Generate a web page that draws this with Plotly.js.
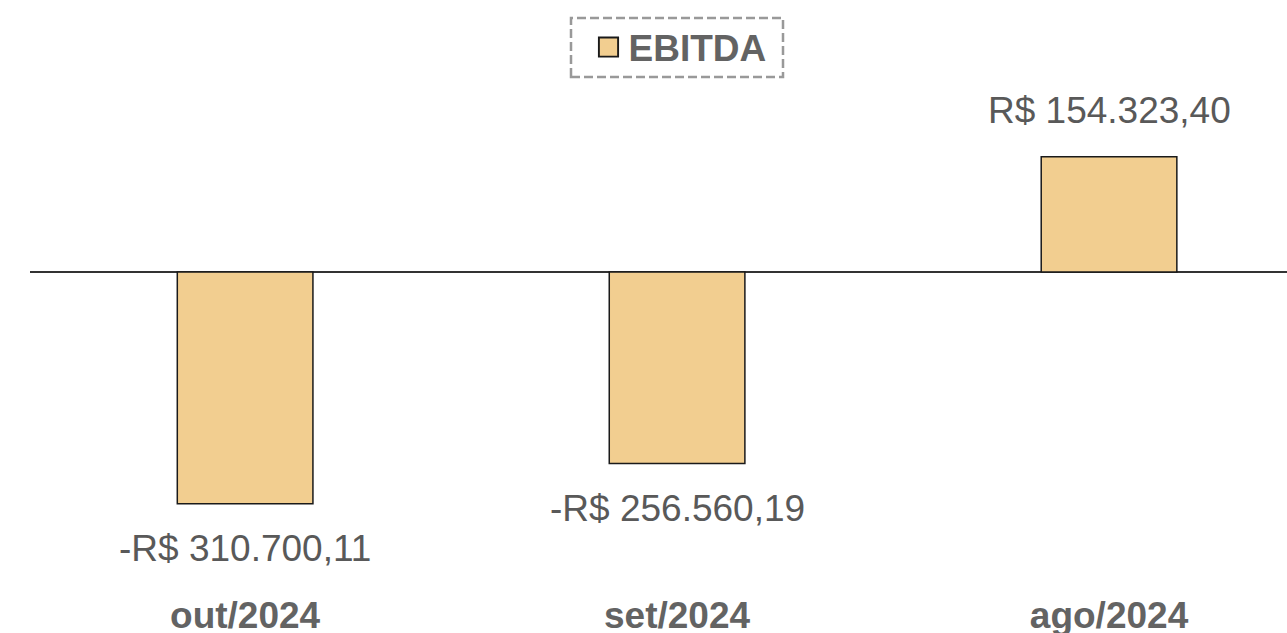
<!DOCTYPE html>
<html>
<head>
<meta charset="utf-8">
<script src="https://cdn.plot.ly/plotly-3.0.1.min.js"></script>
<style>html,body{margin:0;padding:0;background:#fff;}#chart{width:1287px;height:633px;}</style>
</head>
<body>
<div id="chart"></div>
<script>
const categories = ['out/2024', 'set/2024', 'ago/2024'];
const ebitda = [-310700.11, -256560.19, 154323.40];
const seriesName = 'EBITDA';

function fmtBRL(v) {
  const neg = v < 0;
  const parts = Math.abs(v).toFixed(2).split('.');
  const intPart = parts[0].replace(/\B(?=(\d{3})+(?!\d))/g, '.');
  return (neg ? '-' : '') + 'R$ ' + intPart + ',' + parts[1];
}

const FONT = 'Liberation Sans, Arial, sans-serif';
const GRAY = '#595959';
const BOLDGRAY = '#636363';

const trace = {
  type: 'bar',
  x: categories,
  y: ebitda,
  name: seriesName,
  width: 0.314,
  marker: { color: '#F2CE90', line: { color: '#1a1a1a', width: 1.5 } },
  showlegend: true,
  hoverinfo: 'none'
};

const annotations = categories.map((c, i) => ({
  x: c, y: ebitda[i], xref: 'x', yref: 'y',
  text: fmtBRL(ebitda[i]),
  showarrow: false,
  yanchor: 'middle',
  yshift: ebitda[i] < 0 ? -45 : 46,
  font: { family: FONT, size: 37, color: GRAY }
}));

const layout = {
  width: 1287, height: 633,
  margin: { l: 30, r: 0, t: 95, b: 43 },
  paper_bgcolor: '#ffffff', plot_bgcolor: '#ffffff',
  bargap: 0,
  xaxis: {
    range: [-0.498, 2.412],
    showgrid: false, showline: false, zeroline: false, ticks: '',
    tickfont: { family: FONT, size: 37, color: BOLDGRAY, weight: 'bold' },
    fixedrange: true
  },
  yaxis: {
    range: [-426120, 237180],
    showgrid: false, showline: false, showticklabels: false, ticks: '',
    zeroline: true, zerolinecolor: '#333333', zerolinewidth: 1.5,
    fixedrange: true
  },
  showlegend: true,
  legend: {
    xref: 'container', yref: 'container',
    x: 680 / 1287, xanchor: 'center',
    y: 1 - 47.5 / 633, yanchor: 'middle',
    orientation: 'h',
    bgcolor: 'rgba(0,0,0,0)', borderwidth: 0,
    font: { family: FONT, size: 37, color: BOLDGRAY, weight: 'bold' },
    itemwidth: 30
  },
  shapes: [{
    type: 'rect', xref: 'paper', yref: 'paper',
    x0: (571 - 30) / 1257, x1: (783 - 30) / 1257,
    y0: (590 - 77) / 495, y1: (590 - 18) / 495,
    line: { color: '#999999', width: 2.5, dash: '9px,4px' },
    fillcolor: 'rgba(0,0,0,0)'
  }],
  annotations: annotations
};

Plotly.newPlot('chart', [trace], layout, { displayModeBar: false, staticPlot: true }).then(function (gd) {
  gd.querySelectorAll('.legendpoints path').forEach(function (p) {
    const t = p.getAttribute('transform') || '';
    p.setAttribute('transform', t + ' scale(1.6)');
    p.style.strokeWidth = '1.2px';
  });
});
</script>
</body>
</html>
